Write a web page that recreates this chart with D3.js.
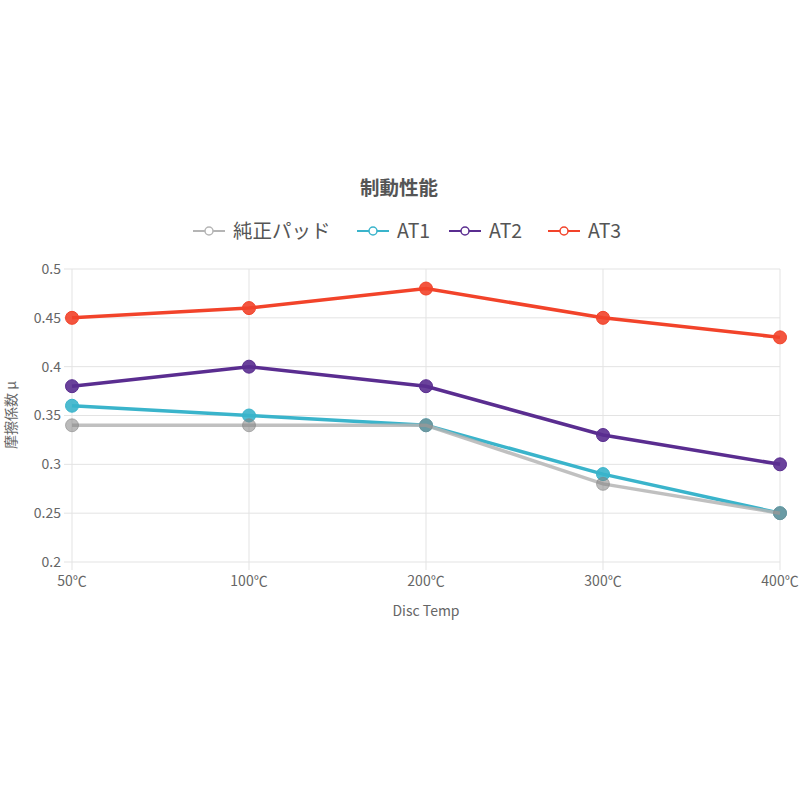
<!DOCTYPE html>
<html><head><meta charset="utf-8">
<script src="https://cdn.jsdelivr.net/npm/d3@7/dist/d3.min.js"></script>
<style>body{margin:0;background:#fff;}svg{display:block;}</style>
</head><body>
<svg id="c" width="800" height="800"></svg>
<script>
const categories = ["50℃","100℃","200℃","300℃","400℃"];
const seriesNames = ["純正パッド","AT1","AT2","AT3"];
const seriesColors = ["#b5b5b5","#3ab4cb","#5a2d90","#f2432a"];
const valsOEM = [0.34,0.34,0.34,0.28,0.25];
const valsAT1 = [0.36,0.35,0.34,0.29,0.25];
const valsAT2 = [0.38,0.40,0.38,0.33,0.30];
const valsAT3 = [0.45,0.46,0.48,0.45,0.43];
const yTicks = [0.2,0.25,0.3,0.35,0.4,0.45,0.5];
const title = "制動性能";
const xTitle = "Disc Temp";
const yTitle = "摩擦係数 μ";

const series = [valsOEM, valsAT1, valsAT2, valsAT3];
const font = "'Noto Sans CJK JP','Noto Sans',sans-serif";
const svg = d3.select("#c");
const L = 72, R = 780, T = 269, B = 562;
const x = d3.scalePoint().domain(categories).range([L, R]);
const y = d3.scaleLinear().domain([0.2, 0.5]).range([B, T]);

// grid
const g = svg.append("g");
g.selectAll("line.h").data(yTicks).join("line")
  .attr("x1", L - 8).attr("x2", R).attr("y1", d => y(d)).attr("y2", d => y(d))
  .attr("stroke", "#e3e3e3").attr("stroke-width", 1);
g.selectAll("line.v").data(categories).join("line")
  .attr("x1", d => x(d)).attr("x2", d => x(d)).attr("y1", T).attr("y2", B + 8)
  .attr("stroke", "#e3e3e3").attr("stroke-width", 1);

// y tick labels
svg.append("g").selectAll("text").data(yTicks).join("text")
  .attr("x", L - 11).attr("y", d => y(d)).attr("dy", "0.35em")
  .attr("text-anchor", "end").attr("font-family", font).attr("font-size", 14)
  .attr("fill", "#666").text(d => String(+d.toFixed(2)));
// x tick labels
svg.append("g").selectAll("text").data(categories).join("text")
  .attr("x", d => x(d)).attr("y", B + 24)
  .attr("text-anchor", "middle").attr("font-family", font).attr("font-size", 14)
  .attr("fill", "#666").text(d => d);

// axis titles
svg.append("text").attr("x", 426).attr("y", 616).attr("text-anchor", "middle")
  .attr("font-family", font).attr("font-size", 14).attr("fill", "#666").text(xTitle);
svg.append("text").attr("transform", "translate(16,415) rotate(-90)").attr("text-anchor", "middle")
  .attr("font-family", font).attr("font-size", 14).attr("fill", "#666").text(yTitle);

// title
svg.append("text").attr("x", 399).attr("y", 195).attr("text-anchor", "middle")
  .attr("font-family", font).attr("font-size", 19.5).attr("font-weight", "bold")
  .attr("fill", "#555").text(title);

// lines (first dataset drawn on top)
const line = d3.line().x((d, i) => x(categories[i])).y(d => y(d));
const pointFill = ["rgba(130,130,130,0.55)", null, null, null];
for (let si = series.length - 1; si >= 0; si--) {
  const vals = series[si];
  svg.append("path").datum(vals).attr("d", line).attr("fill", "none")
    .attr("stroke", seriesColors[si]).attr("stroke-width", 3.5).attr("stroke-opacity", si === 0 ? 0.85 : 1);
  svg.append("g").selectAll("circle").data(vals).join("circle")
    .attr("cx", (d, i) => x(categories[i])).attr("cy", d => y(d)).attr("r", 6.5)
    .attr("fill", pointFill[si] || seriesColors[si]).attr("fill-opacity", pointFill[si] ? 1 : 0.9)
    .attr("stroke", pointFill[si] || seriesColors[si]).attr("stroke-width", 1);
}

// legend
const legX = [193, 357, 449, 548];
const lg = svg.append("g");
seriesNames.forEach((n, i) => {
  const gx = legX[i], gy = 231;
  lg.append("line").attr("x1", gx).attr("x2", gx + 32).attr("y1", gy).attr("y2", gy)
    .attr("stroke", seriesColors[i]).attr("stroke-width", 2);
  lg.append("circle").attr("cx", gx + 16).attr("cy", gy).attr("r", 4)
    .attr("fill", "#fff").attr("stroke", seriesColors[i]).attr("stroke-width", 1.5);
  lg.append("text").attr("x", gx + 40).attr("y", gy).attr("dy", "0.35em")
    .attr("font-family", font).attr("font-size", 19.5).attr("fill", "#555").text(n);
});
</script>
</body></html>
